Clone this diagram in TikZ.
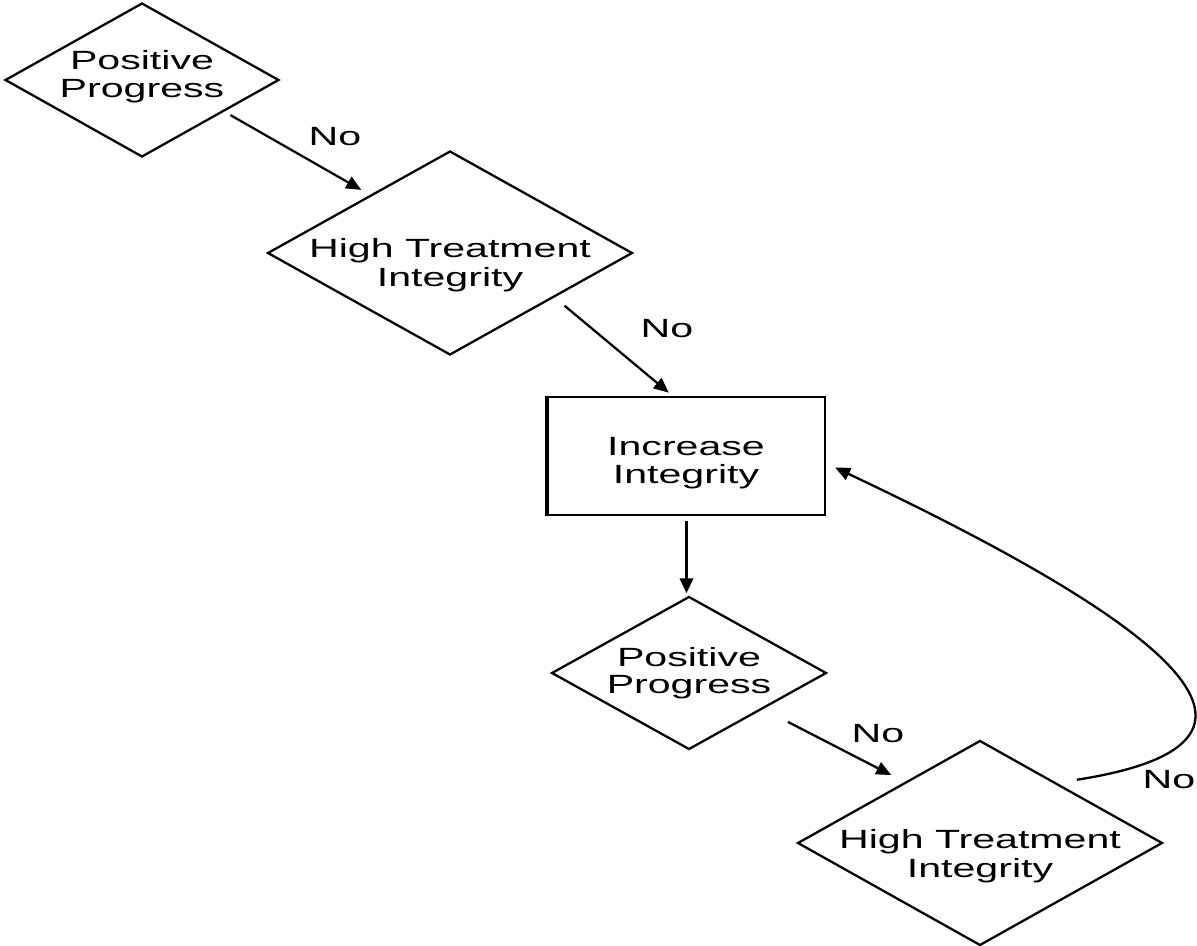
\documentclass[tikz,border=0pt]{standalone}
\usepackage{fontspec}
\setmainfont{Liberation Sans}
\usepackage{graphicx}
\usetikzlibrary{shapes.geometric,arrows.meta}
% wide lettering used throughout the chart
\newcommand{\widetext}[1]{\scalebox{1.56}[1]{#1}}
\begin{document}
\begin{tikzpicture}[x=0.02cm,y=-0.02cm,
  decision/.style={diamond,draw,line width=1.3pt,inner sep=0pt},
  process/.style={rectangle,draw,line width=1.3pt,inner sep=0pt},
  txt/.style={font=\fontsize{15}{15.6}\selectfont,align=center,inner sep=0pt},
  widetxt/.style={txt,font=\fontsize{15}{16.6}\selectfont},
  flow/.style={line width=1.3pt,-{Triangle[length=0.3cm,width=0.26cm]}},
]
\useasboundingbox[fill=white] (0,0) rectangle (1197,946);

% shapes
\node[decision,minimum width=5.48cm,minimum height=3.08cm] (d1) at (142,80) {};
\node[txt] (t1) at (142,76.5) {\widetext{Positive}\\\widetext{Progress}};

\node[decision,minimum width=7.3cm,minimum height=4.08cm] (d2) at (450,253) {};
\node[widetxt] (t2) at (450,265) {\widetext{High Treatment}\\\widetext{Integrity}};

\node[process,minimum width=5.54cm,minimum height=2.36cm] (r) at (686.5,456) {};
\draw[line width=2pt] (r.north west) -- (r.south west);
\node[txt] (tr) at (686,463) {\widetext{Increase}\\\widetext{Integrity}};

\node[decision,minimum width=5.5cm,minimum height=3.06cm] (d3) at (689,673) {};
\node[txt] (t3) at (689,673) {\widetext{Positive}\\\widetext{Progress}};

\node[decision,minimum width=7.3cm,minimum height=4.1cm] (d4) at (980,843) {};
\node[widetxt] (t4) at (980,856) {\widetext{High Treatment}\\\widetext{Integrity}};

% connectors
\draw[flow,shorten <=0.14cm,shorten >=0.2cm] (d1.-21) -- (d2.144.4);
\draw[flow,shorten <=0.26cm,shorten >=0.1cm] (d2.-23.3) -- (r.103.3);
\draw[flow,line width=1.9pt,shorten <=0.1cm,shorten >=0.04cm] (r.south) -- (r.south |- d3.north);
\draw[flow,shorten <=0.56cm,shorten >=0.3cm] (d3.-26.8) -- (d4.141.2);
\draw[flow,shorten <=0.4cm,shorten >=0.2cm] (d4.38) .. controls (1300,745) and (1200,640) .. (r.-3);

% branch labels
\node[txt] (n1) at (335,137) {\widetext{No}};
\node[txt] (n2) at (667,329) {\widetext{No}};
\node[txt] (n3) at (878,734) {\widetext{No}};
\node[txt] (n4) at (1169,780) {\widetext{No}};
\end{tikzpicture}
\end{document}
